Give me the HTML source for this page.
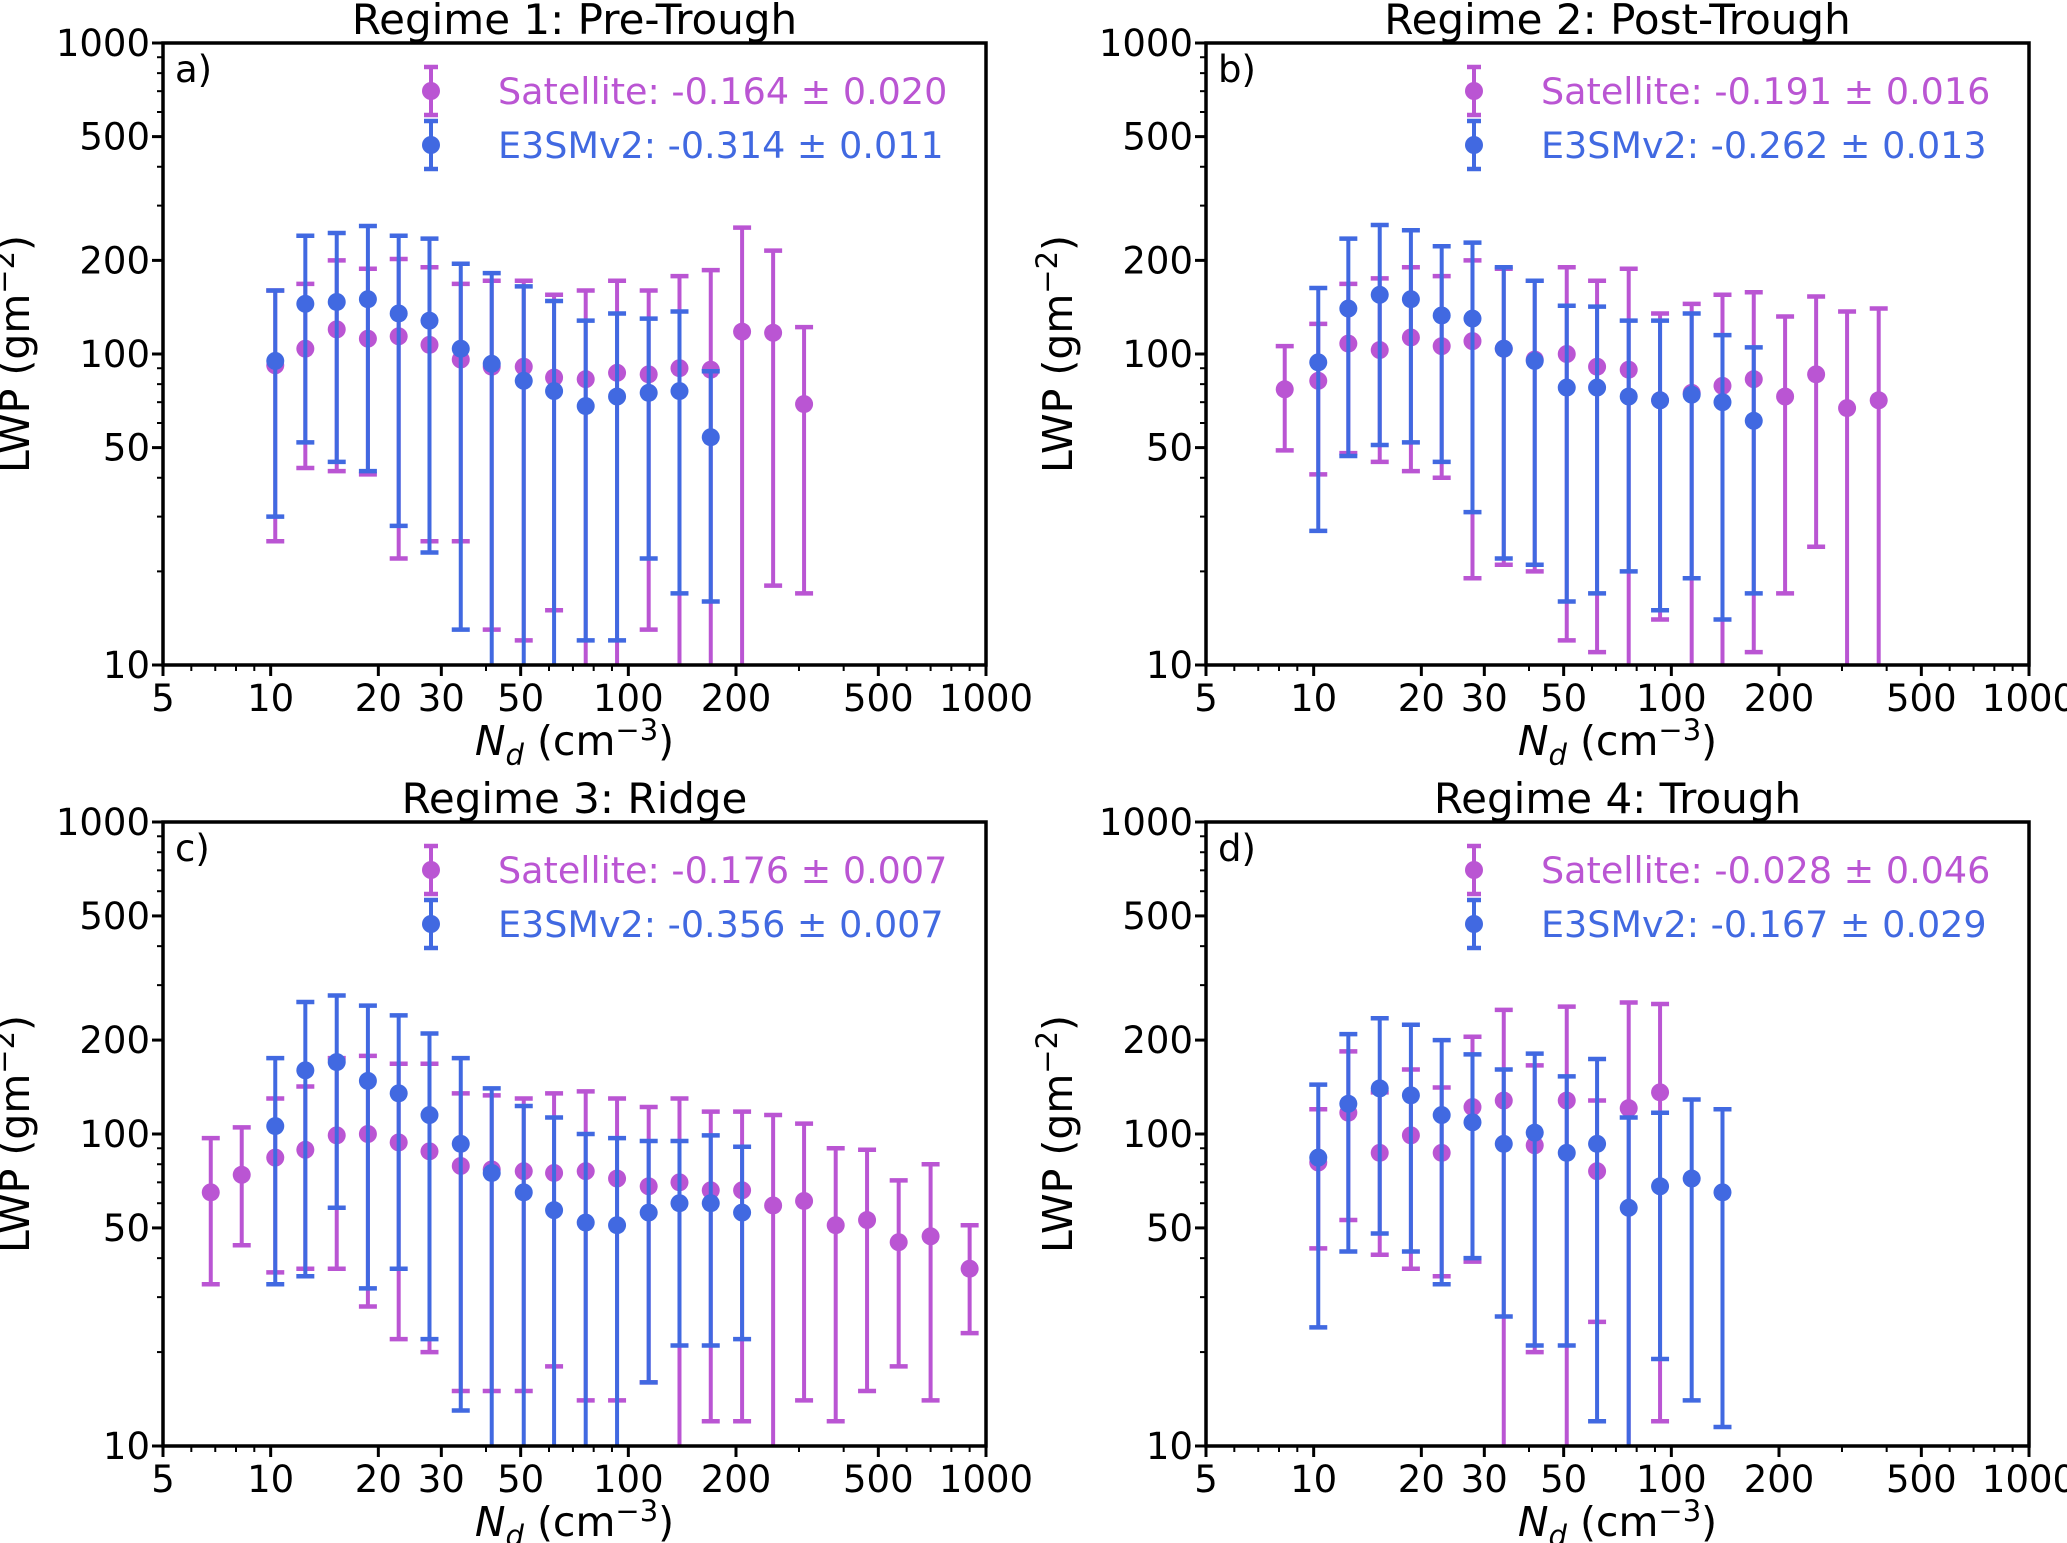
<!DOCTYPE html>
<html><head><meta charset="utf-8"><style>
html,body{margin:0;padding:0;background:#fff;}
svg{display:block;font-family:"DejaVu Sans","Liberation Sans",sans-serif;}
</style></head><body>
<svg id="fig" width="2067" height="1543" viewBox="0 0 2067 1543" xmlns="http://www.w3.org/2000/svg"></svg>
<script>
// ---- data ----
const xA_sat=[10.3,12.5,15.3,18.7,22.8,27.8,34,41.5,51,62,76,93,114,139,170,208,254,310];
const yA_sat=[92,104,120,112,114,107,96,91,91,84,83,87,86,90,89,118,117,69];
const loA_sat=[25,43,42,41,22,25,25,13,12,15,9,8,13,5,5,5,18,17];
const hiA_sat=[160,168,200,188,202,190,168,172,172,155,160,172,160,178,186,255,215,122];
const xA_e3=[10.3,12.5,15.3,18.7,22.8,27.8,34,41.5,51,62,76,93,114,139,170];
const yA_e3=[95,145,147,150,135,128,104,93,82,76,68,73,75,76,54];
const loA_e3=[30,52,45,42,28,23,13,5,5,5,12,12,22,17,16];
const hiA_e3=[160,240,245,258,240,235,195,182,165,148,128,135,130,137,88];

const xB_sat=[8.3,10.3,12.5,15.3,18.7,22.8,27.8,34,41.5,51,62,76,93,114,139,170,208,254,310,380];
const yB_sat=[77,82,108,103,113,106,110,104,96,100,91,89,71,75,79,83,73,86,67,71];
const loB_sat=[49,41,48,45,42,40,19,21,20,12,11,8,14,8,8,11,17,24,5,5];
const hiB_sat=[106,125,168,175,190,178,200,188,172,190,172,188,135,145,155,158,132,153,137,140];
const xB_e3=[10.3,12.5,15.3,18.7,22.8,27.8,34,41.5,51,62,76,93,114,139,170];
const yB_e3=[94,140,155,150,133,130,104,95,78,78,73,71,74,70,61];
const loB_e3=[27,47,51,52,45,31,22,21,16,17,20,15,19,14,17];
const hiB_e3=[163,235,260,250,222,228,190,172,143,142,128,128,135,115,105];

const xC_sat=[6.8,8.3,10.3,12.5,15.3,18.7,22.8,27.8,34,41.5,51,62,76,93,114,139,170,208,254,310,380,465,570,700,900];
const yC_sat=[65,74,84,89,99,100,94,88,79,77,76,75,76,72,68,70,66,66,59,61,51,53,45,47,37];
const loC_sat=[33,44,36,37,37,28,22,20,15,15,15,18,14,14,16,6,12,12,6,14,12,15,18,14,23];
const hiC_sat=[97,105,130,142,175,178,168,168,135,133,130,135,137,130,122,130,118,118,115,108,90,89,71,80,51];
const xC_e3=[10.3,12.5,15.3,18.7,22.8,27.8,34,41.5,51,62,76,93,114,139,170,208];
const yC_e3=[106,160,170,148,135,115,93,75,65,57,52,51,56,60,60,56];
const loC_e3=[33,35,58,32,37,22,13,5,5,5,5,5,16,21,21,22];
const hiC_e3=[175,265,278,258,240,210,175,140,123,113,100,97,95,95,99,91];

const xD_sat=[10.3,12.5,15.3,18.7,22.8,27.8,34,41.5,51,62,76,93];
const yD_sat=[81,117,87,99,87,122,128,92,128,76,121,136];
const loD_sat=[43,53,41,37,35,39,5,20,5,25,5,12];
const hiD_sat=[120,184,136,161,141,205,250,166,256,128,264,261];
const xD_e3=[10.3,12.5,15.3,18.7,22.8,27.8,34,41.5,51,62,76,93,114,139];
const yD_e3=[84,125,140,133,115,109,93,101,87,93,58,68,72,65];
const loD_e3=[24,42,48,42,33,40,26,21,21,12,5,19,14,11.5];
const hiD_e3=[144,209,235,224,200,180,161,181,153,174,113,117,129,120];

const xTicks=[5,10,20,30,50,100,200,500,1000];
const yTicks=[10,50,100,200,500,1000];
const panels=[
 {id:'a',title:'Regime 1: Pre-Trough',L:163,R:986,T:43,B:665,sat:[xA_sat,yA_sat,loA_sat,hiA_sat],e3:[xA_e3,yA_e3,loA_e3,hiA_e3],ls:'-0.164 ± 0.020',le:'-0.314 ± 0.011'},
 {id:'b',title:'Regime 2: Post-Trough',L:1206,R:2029,T:43,B:665,sat:[xB_sat,yB_sat,loB_sat,hiB_sat],e3:[xB_e3,yB_e3,loB_e3,hiB_e3],ls:'-0.191 ± 0.016',le:'-0.262 ± 0.013'},
 {id:'c',title:'Regime 3: Ridge',L:163,R:986,T:822,B:1446,sat:[xC_sat,yC_sat,loC_sat,hiC_sat],e3:[xC_e3,yC_e3,loC_e3,hiC_e3],ls:'-0.176 ± 0.007',le:'-0.356 ± 0.007'},
 {id:'d',title:'Regime 4: Trough',L:1206,R:2029,T:822,B:1446,sat:[xD_sat,yD_sat,loD_sat,hiD_sat],e3:[xD_e3,yD_e3,loD_e3,hiD_e3],ls:'-0.028 ± 0.046',le:'-0.167 ± 0.029'}
];
const MAG='#BA55D3', BLU='#4169E1';
const NS='http://www.w3.org/2000/svg';
const svg=document.getElementById('fig');
function mk(tag,attrs,parent){const e=document.createElementNS(NS,tag);for(const k in attrs)e.setAttribute(k,attrs[k]);(parent||svg).appendChild(e);return e;}
function txt(s,attrs,parent){const e=mk('text',attrs,parent);e.textContent=s;return e;}

panels.forEach(p=>{
  const g=mk('g',{});
  
  
  const sx=v=>p.L+(Math.log10(v)-Math.log10(5))/(3-Math.log10(5))*(p.R-p.L);
  const sy=v=>p.B-(Math.log10(v)-1)/2*(p.B-p.T);
  const cl=v=>Math.min(Math.max(v,p.T),p.B);
  function series(arr,col,name){
    const sg=mk('g',{},g);
    
    
    const [xs,ys,lo,hi]=arr;
    xs.forEach((x,i)=>{
      const cx=sx(x), yl=sy(lo[i]), yh=sy(hi[i]);
      const eb=mk('g',{},sg);
      
      
      mk('line',{x1:cx,x2:cx,y1:cl(yl),y2:cl(yh),stroke:col,'stroke-width':4},eb);
      if(yh>=p.T) mk('line',{x1:cx-9,x2:cx+9,y1:yh,y2:yh,stroke:col,'stroke-width':4.5},eb);
      if(yl<=p.B) mk('line',{x1:cx-9,x2:cx+9,y1:yl,y2:yl,stroke:col,'stroke-width':4.5},eb);
      mk('circle',{cx:cx,cy:sy(ys[i]),r:9,fill:col},eb);
    });
  }
  series(p.sat,MAG,'satellite');
  series(p.e3,BLU,'e3smv2');
  const fr=mk('rect',{x:p.L,y:p.T,width:p.R-p.L,height:p.B-p.T,fill:'none',stroke:'#000','stroke-width':3.5},g);
  
  
  for(let d=0;d<3;d++){for(let m=1;m<10;m++){const v=Math.pow(10,d)*m;if(v<5||v>1000)continue;
    const major=xTicks.includes(v);const X=sx(v);
    mk('line',{x1:X,x2:X,y1:p.B,y2:p.B+(major?11:6),stroke:'#000','stroke-width':major?3:2},g);}}
  mk('line',{x1:sx(1000),x2:sx(1000),y1:p.B,y2:p.B+11,stroke:'#000','stroke-width':3},g);
  xTicks.forEach(v=>{const t=txt(String(v),{x:sx(v),y:p.B+46,'font-size':37,'text-anchor':'middle',fill:'#000'},g);
    
    });
  for(let d=1;d<3;d++){for(let m=1;m<10;m++){const v=Math.pow(10,d)*m;const major=yTicks.includes(v);const Y=sy(v);
    mk('line',{x1:p.L,x2:p.L-(major?11:6),y1:Y,y2:Y,stroke:'#000','stroke-width':major?3:2},g);}}
  mk('line',{x1:p.L,x2:p.L-11,y1:sy(1000),y2:sy(1000),stroke:'#000','stroke-width':3},g);
  yTicks.forEach(v=>{const t=txt(String(v),{x:p.L-13,y:sy(v)+13,'font-size':37,'text-anchor':'end',fill:'#000'},g);
    
    });
  const cx=(p.L+p.R)/2;
  const ti=txt(p.title,{x:cx,y:p.T-9,'font-size':42,'text-anchor':'middle',fill:'#000'},g);
  
  
  const xl=mk('text',{x:cx,y:p.B+90,'font-size':41,'text-anchor':'middle',fill:'#000'},g);
  
  
  xl.innerHTML='<tspan font-style="italic">N</tspan><tspan font-style="italic" font-size="29" dy="10">d</tspan><tspan dy="-10"> (cm</tspan><tspan font-size="29" dy="-15">−3</tspan><tspan dy="15">)</tspan>';
  const ymid=(p.T+p.B)/2, yx=p.L-134;
  const yl=mk('text',{x:yx,y:ymid,'font-size':41,'text-anchor':'middle',fill:'#000',transform:`rotate(-90 ${yx} ${ymid})`},g);
  
  
  yl.innerHTML='LWP (gm<tspan font-size="29" dy="-15">−2</tspan><tspan dy="15">)</tspan>';
  const lt=txt(p.id+')',{x:p.L+12,y:p.T+39,'font-size':37,fill:'#000'},g);
  
  
  const lg=mk('g',{},g);
  
  
  [[MAG,'Satellite: '+p.ls,p.T+48],[BLU,'E3SMv2: '+p.le,p.T+102]].forEach(([c,s,y])=>{
    const e=mk('g',{},lg);
    
    
    const mx=p.L+268;
    mk('line',{x1:mx,x2:mx,y1:y-24,y2:y+24,stroke:c,'stroke-width':4},e);
    mk('line',{x1:mx-7,x2:mx+7,y1:y-24,y2:y-24,stroke:c,'stroke-width':4.5},e);
    mk('line',{x1:mx-7,x2:mx+7,y1:y+24,y2:y+24,stroke:c,'stroke-width':4.5},e);
    mk('circle',{cx:mx,cy:y,r:9,fill:c},e);
    txt(s,{x:p.L+335,y:y+13,'font-size':36.5,fill:c},e);
  });
});
</script>
</body></html>
